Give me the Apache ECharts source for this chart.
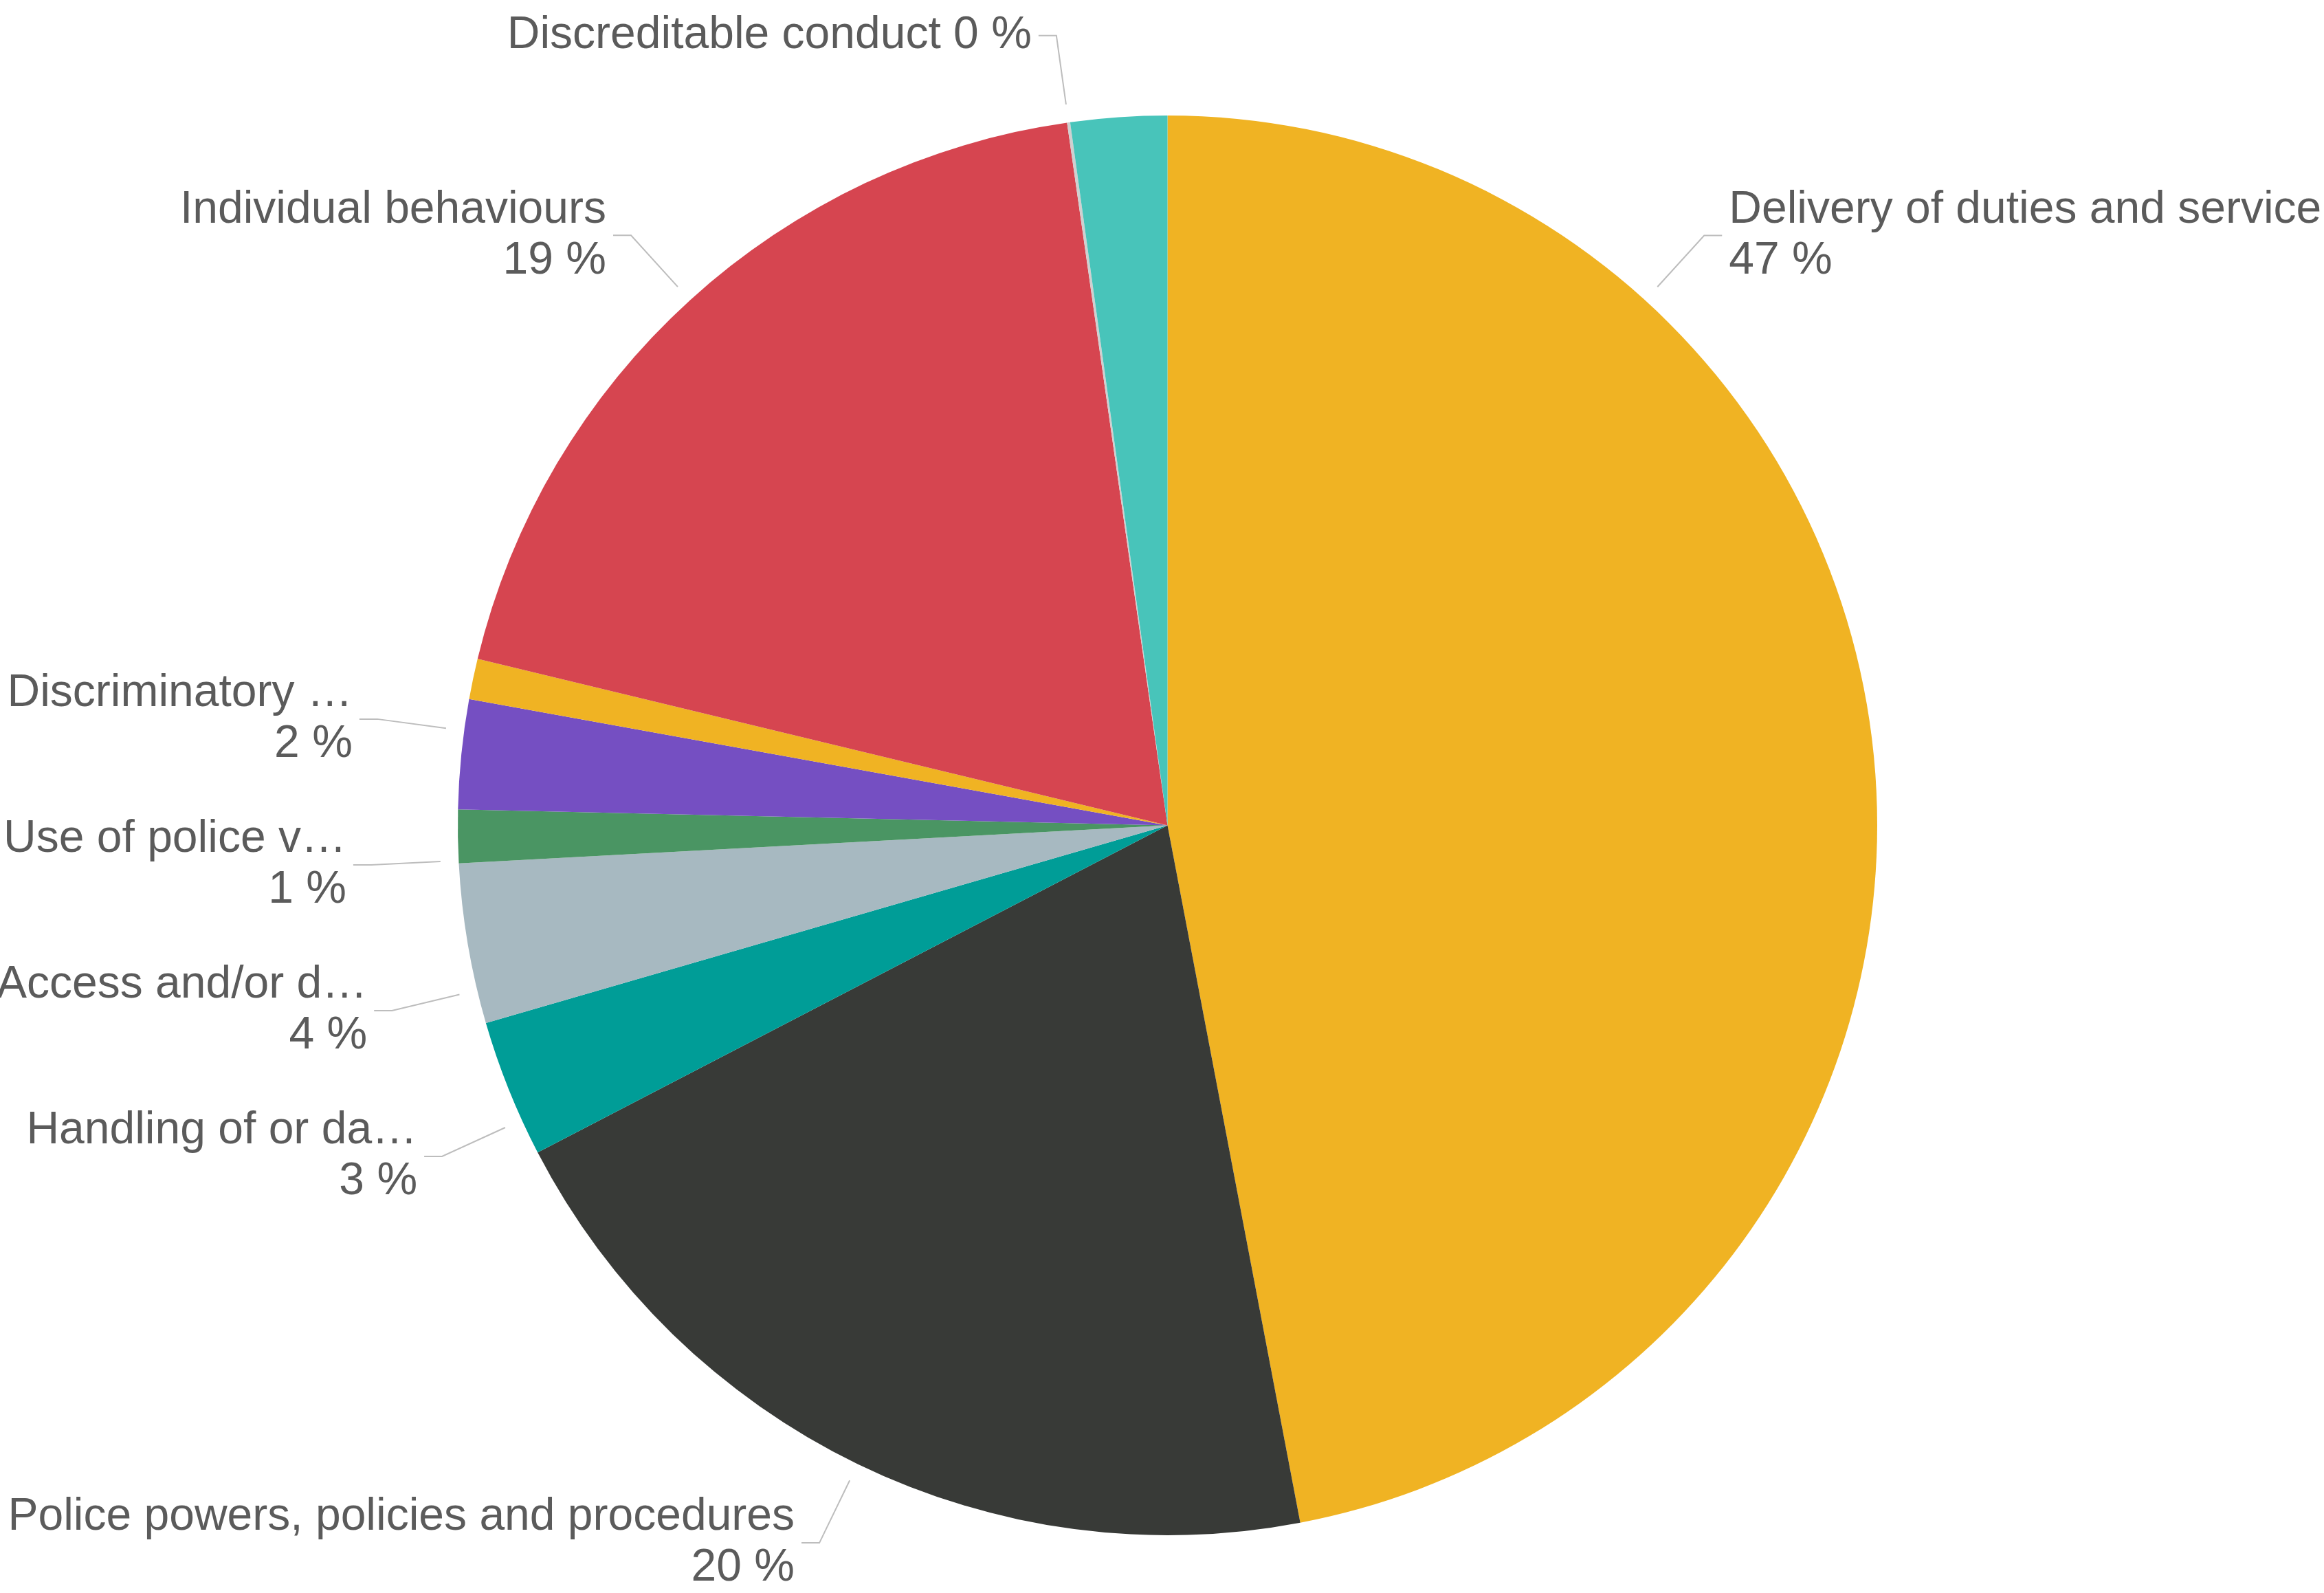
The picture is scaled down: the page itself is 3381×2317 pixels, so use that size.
<!DOCTYPE html>
<html>
<head>
<meta charset="utf-8">
<script src="https://cdn.jsdelivr.net/npm/echarts@6/dist/echarts.min.js"></script>
<style>
html,body{margin:0;padding:0;background:#ffffff;}
#chart{width:3381px;height:2317px;}
</style>
</head>
<body>
<div id="chart"></div>
<script>
// ---- data ----
const categories = [
  'Delivery of duties and service',
  'Police powers, policies and procedures',
  'Handling of or damage to property/premises',
  'Access and/or disclosure of information',
  'Use of police vehicles',
  'Discriminatory behaviour',
  'Abuse of position/corruption',
  'Individual behaviours',
  'Discreditable conduct',
  'Other'
];
const shares = [47.00, 20.37, 3.13, 3.64, 1.21, 2.49, 0.92, 18.97, 0.07, 2.19];
const colors = ['#F0B323', '#383A37', '#009D97', '#A7B9C1', '#4A9563', '#754FC2', '#F0B323', '#D64550', '#CFCFCF', '#48C4BA'];
// labels not drawn in the reference
const hiddenLabels = ['Abuse of position/corruption', 'Other'];
// hidden label that still keeps its slot in the label stack
const reservedLabels = ['Abuse of position/corruption'];

// ---- geometry / style constants ----
const W = 3381, H = 2317;
const CX = 1698.5, CY = 1200.5, R = 1032.5;
const R_LINE0 = 1059, R_BEND = 1160, LEN2 = 26, GAP = 10, MIN_GAP = 212, LEFT_EDGE = -12;

// ---- label anchor computation (from the data) ----
const total = shares.reduce((a, b) => a + b, 0);
let acc = 0;
const anchors = shares.map((v, i) => {
  const a0 = acc / total * 2 * Math.PI;
  const sw = v / total * 2 * Math.PI;
  acc += v;
  const frac = sw > Math.PI * 5 / 6 ? 0.25 : 0.5;
  const th = a0 + sw * frac;
  return { i, th, side: Math.sin(th) < 0 ? -1 : 1, y: CY - R_BEND * Math.cos(th) };
});
const inStack = anchors.filter(a => !hiddenLabels.includes(categories[a.i]) || reservedLabels.includes(categories[a.i]));
[-1, 1].forEach(side => {
  const list = inStack.filter(a => a.side === side).sort((a, b) => a.y - b.y);
  for (let it = 0; it < 600; it++) {
    for (let j = 1; j < list.length; j++) {
      const d = list[j].y - list[j - 1].y;
      if (d < MIN_GAP) { const s = (MIN_GAP - d) / 2; list[j - 1].y -= s; list[j].y += s; }
    }
  }
  list.forEach(a => {
    const c = Math.max(-1, Math.min(1, (CY - a.y) / R_BEND));
    const base = Math.acos(c);
    a.th = side < 0 ? 2 * Math.PI - base : base;
  });
});
anchors.forEach(a => {
  const sx = Math.sin(a.th), sy = -Math.cos(a.th);
  a.p1 = [CX + R_LINE0 * sx, CY + R_LINE0 * sy];
  a.p2 = [CX + R_BEND * sx, CY + R_BEND * sy];
  a.p3 = [a.p2[0] + a.side * LEN2, a.p2[1]];
  a.lx = a.p3[0] + a.side * GAP;
  a.ly = a.p3[1];
  a.width = a.side < 0 ? a.lx - LEFT_EDGE : W - a.lx + 300;
});

const seriesData = categories.map((name, i) => ({
  name: name,
  value: shares[i],
  itemStyle: { color: colors[i] },
  label: { show: !hiddenLabels.includes(name) },
  labelLine: { show: !hiddenLabels.includes(name) }
}));

const chart = echarts.init(document.getElementById('chart'), null, { renderer: 'canvas', width: W, height: H });
chart.setOption({
  backgroundColor: '#ffffff',
  animation: false,
  series: [{
    type: 'pie',
    center: [CX, CY],
    radius: R,
    startAngle: 90,
    clockwise: true,
    avoidLabelOverlap: true,
    itemStyle: { borderWidth: 0 },
    emphasis: { disabled: true },
    label: {
      show: true,
      position: 'outside',
      alignTo: 'none',
      color: '#5B5B5B',
      fontFamily: '"Liberation Sans", Arial, Helvetica, sans-serif',
      fontSize: 66,
      lineHeight: 74,
      overflow: 'truncate',
      ellipsis: '\u2026',
      formatter: function (p) {
        const pct = Math.round(p.percent);
        return p.name + (pct === 0 ? ' ' : '\n') + pct + ' %';
      }
    },
    labelLine: {
      show: true,
      length: R_BEND - R,
      length2: LEN2,
      smooth: false,
      lineStyle: { color: '#BDBDBD', width: 2 }
    },
    labelLayout: function (params) {
      const a = anchors[params.dataIndex];
      return {
        x: a.lx,
        y: a.ly,
        align: a.side < 0 ? 'right' : 'left',
        verticalAlign: 'middle',
        width: a.width,
        labelLinePoints: [a.p1, a.p2, a.p3]
      };
    },
    data: seriesData
  }]
});
</script>
</body>
</html>
